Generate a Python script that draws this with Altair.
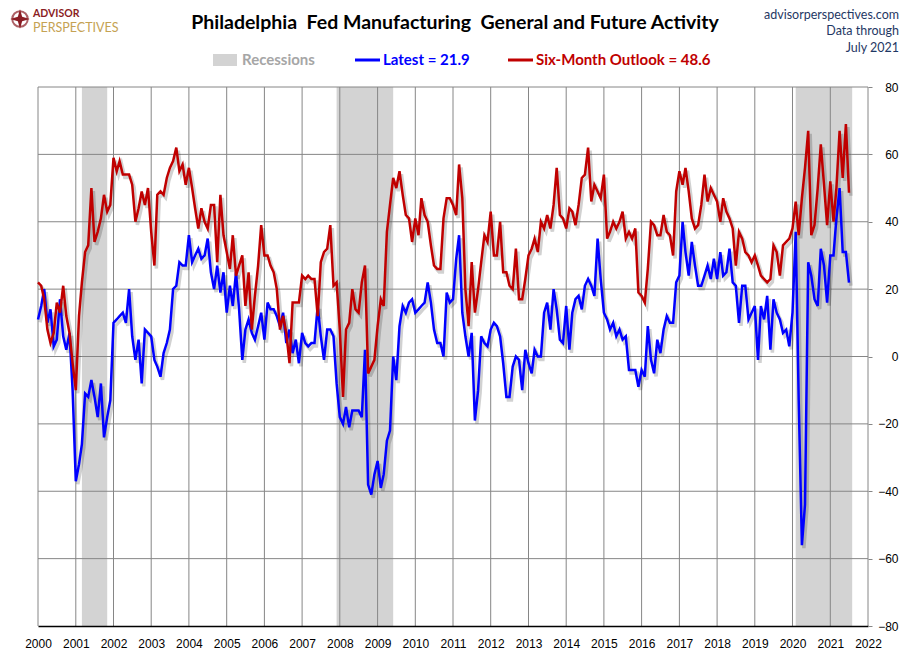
import pandas as pd
import altair as alt

# Philly Fed general activity ("Latest") and six-month outlook, monthly Jan 2000 .. Jul 2021
latest = [
    11, 15, 20, 10, 14, 3, 5, 17, 6, 2, 7, -10,            # 2000
    -37, -32, -26, -11, -12, -7, -12, -18, -8, -24, -18, -13,  # 2001
    10, 11, 12, 13, 10, 20, 6, -1, 5, -8, 8, 7,             # 2002
    6, -1, -3, -6, 1, 4, 8, 20, 21, 28, 27, 27,             # 2003
    36, 28, 30, 32, 29, 30, 35, 25, 20, 27, 19, 25,         # 2004
    13, 21, 15, 25, 14, -1, 8, 11, 7, 5, 9, 13,             # 2005
    5, 16, 14, 14, 12, 9, 13, 4, 8, 1, 5, -2,               # 2006
    7, 4, 3, 4, 4, 15, 6, -1, 8, 8, 6, -8,                  # 2007
    -18, -20, -15, -21, -16, -16, -16, -18, 2, -38, -41, -35,  # 2008
    -31, -39, -35, -25, -22, 0, -7, 9, 15, 13, 16, 17,      # 2009
    13, 14, 15, 16, 22, 16, 8, 4, 4, 0, 19, 16,             # 2010
    17, 29, 36, 13, 6, 0, 7, -19, -10, 6, 4, 3,             # 2011
    8, 10, 9, 6, -2, -12, -12, -3, 0, -1, -10, 2,           # 2012
    -2, -5, 2, 0, 0, 13, 16, 8, 20, 14, 5, 4,               # 2013
    15, 2, 13, 17, 18, 14, 21, 23, 21, 18, 35, 23,          # 2014
    13, 11, 8, 10, 6, 8, 5, 6, -4, -4, -4, -9,              # 2015
    -4, -6, 9, -1, -5, 5, 1, 8, 12, 10, 10, 22,             # 2016
    24, 40, 31, 24, 34, 27, 21, 21, 24, 27, 23, 29,         # 2017
    23, 31, 24, 25, 32, 22, 21, 10, 21, 21, 11, 13,         # 2018
    15, -1, 15, 11, 18, 2, 17, 13, 11, 7, 8, 3,             # 2019
    13, 37, -13, -56, -44, 28, 24, 17, 15, 32, 27, 16,      # 2020
    30, 30, 41, 50, 31, 31, 21.9,                           # 2021
]
outlook = [
    22, 21, 17, 8, 4, 7, 16, 13, 21, 12, 7, -2,             # 2000
    -10, 12, 22, 31, 33, 50, 34, 37, 41, 48, 43, 45,        # 2001
    59, 55, 58, 54, 54, 54, 51, 40, 44, 49, 45, 50,         # 2002
    37, 27, 48, 49, 48, 53, 56, 58, 62, 55, 57, 51,         # 2003
    56, 50, 44, 38, 44, 40, 38, 45, 45, 28, 48, 36,         # 2004
    31, 26, 36, 24, 27, 30, 15, 25, 8, 18, 27, 39,          # 2005
    30, 30, 27, 25, 20, 8, 12, 7, -2, 16, 16, 16,           # 2006
    24, 23, 24, 23, 23, 12, 28, 31, 32, 39, 21, 22,         # 2007
    8, -12, 8, 10, 20, 14, 13, 22, 27, -5, -3, -1,          # 2008
    9, 17, 15, 37, 45, 53, 50, 55, 48, 42, 41, 34,          # 2009
    41, 36, 47, 42, 40, 33, 27, 26, 26, 41, 47, 47,         # 2010
    45, 42, 57, 47, 20, 9, 28, 13, 20, 28, 36, 34,          # 2011
    43, 30, 30, 40, 25, 25, 21, 20, 32, 17, 17, 23,         # 2012
    30, 32, 35, 31, 40, 38, 42, 38, 45, 56, 42, 41,         # 2013
    38, 44, 43, 39, 45, 53, 54, 62, 46, 51, 49, 47,         # 2014
    54, 35, 37, 40, 38, 40, 43, 35, 37, 35, 38, 19,         # 2015
    18, 16, 26, 40, 39, 36, 36, 42, 37, 36, 30, 49,         # 2016
    55, 51, 56, 49, 41, 38, 39, 45, 54, 46, 50, 48,         # 2017
    46, 40, 47, 43, 41, 38, 27, 37, 35, 31, 30, 28,         # 2018
    30, 27, 24, 23, 22, 23, 33, 31, 24, 33, 34, 35,         # 2019
    38, 46, 36, 47, 56, 67, 36, 39, 50, 63, 51, 39,         # 2020
    52, 40, 50, 67, 53, 69, 48.6,                           # 2021
]

# recession bands (the last one runs to the end of the data)
rec_start = ["2001-03-01", "2007-12-01", "2020-02-01"]
rec_end = ["2001-11-01", "2009-06-01", "2021-08-01"]

years = list(range(2000, 2023))
y_ticks = [-80, -60, -40, -20, 0, 20, 40, 60, 80]

_BLUE = "#0000ff"
_RED = "#c00000"
_GRID = "#868686"
_SHADE = "#d3d3d3"
_NAVY = "#1f3864"
_MAROON = "#8b1d24"
W, H = 830, 539

dates = pd.date_range("2000-01-01", periods=len(latest), freq="MS")
df = pd.DataFrame({"date": dates, "Latest": latest, "Six-Month Outlook": outlook})
long = df.melt("date", var_name="series", value_name="value")

x_scale = alt.Scale(domain=[alt.DateTime(year=2000, month=1, date=1),
                            alt.DateTime(year=2022, month=1, date=1)])
y_scale = alt.Scale(domain=[-80, 80], nice=False)

# the same axis objects go on every layer so Vega-Lite can merge them cleanly
x_axis = alt.Axis(
    values=[alt.DateTime(year=y, month=1, date=1) for y in years], format="%Y",
    labelFont="Liberation Sans", labelFontSize=12, labelColor="#000",
    tickSize=0, labelPadding=12, domainColor="#000", domainWidth=1.5,
    grid=False, zindex=1, labelFlush=False, labelOverlap=False, title=None)
y_axis = alt.Axis(
    orient="right", values=y_ticks, labelFont="Liberation Sans", labelFontSize=12,
    labelColor="#000", tickColor=_GRID, tickSize=4, labelAlign="right",
    labelPadding=26, domain=False, grid=False, zindex=1, title=None)

rec_df = pd.DataFrame({"start": pd.to_datetime(rec_start), "end": pd.to_datetime(rec_end)})
shade = alt.Chart(rec_df).mark_rect(color=_SHADE).encode(
    x=alt.X("start:T", scale=x_scale, axis=x_axis), x2="end:T",
    y=alt.datum(80, scale=y_scale, axis=y_axis), y2=alt.datum(-80))

year_df = pd.DataFrame({"year": pd.to_datetime([f"{y}-01-01" for y in years])})
vgrid = alt.Chart(year_df).mark_rule(color=_GRID, strokeWidth=1).encode(
    x=alt.X("year:T", scale=x_scale, axis=x_axis))
hgrid = alt.Chart(pd.DataFrame({"v": y_ticks[1:]})).mark_rule(
    color=_GRID, strokeWidth=1).encode(y=alt.Y("v:Q", scale=y_scale, axis=y_axis))

# soft drop shadow under both series, like the spreadsheet original
shadow = alt.Chart(long).mark_line(
    color="#000", opacity=0.18, strokeWidth=3.5, xOffset=2, yOffset=3
).encode(x=alt.X("date:T", scale=x_scale, axis=x_axis),
         y=alt.Y("value:Q", scale=y_scale, axis=y_axis),
         detail="series:N")
lines = alt.Chart(long).mark_line(strokeWidth=2.5).encode(
    x=alt.X("date:T", scale=x_scale, axis=x_axis),
    y=alt.Y("value:Q", scale=y_scale, axis=y_axis),
    color=alt.Color("series:N", legend=None,
                    scale=alt.Scale(domain=["Latest", "Six-Month Outlook"],
                                    range=[_BLUE, _RED])))

_one = pd.DataFrame({"k": [0]})


def label(text, x, y, **kw):
    """A bit of page furniture placed in plot pixels (origin = top-left of the plot)."""
    return alt.Chart(_one).mark_text(text=text, baseline="middle", **kw).encode(
        x=alt.value(x), y=alt.value(y))


def swatch(x1, x2, y, color, width):
    return alt.Chart(_one).mark_rule(color=color, strokeWidth=width).encode(
        x=alt.value(x1), x2=alt.value(x2), y=alt.value(y))


title = label("Philadelphia\u00a0 Fed Manufacturing\u00a0 General and Future Activity",
              417, -64, align="center", font="Lato", fontSize=19.5, fontWeight="bold",
              color="#000")
site = [label(t, 861, yy, align="right", font="Lato", fontSize=12.5, color=_NAVY)
        for t, yy in [("advisorperspectives.com", -72), ("Data through", -56),
                      ("July 2021", -39)]]
legend = [
    swatch(175, 199, -27, _SHADE, 12),
    label("Recessions", 204, -27, align="left", font="Lato", fontSize=15,
          fontWeight="bold", color="#a6a6a6"),
    swatch(317, 342, -27, _BLUE, 3),
    label("Latest = 21.9", 345, -27, align="left", font="Lato", fontSize=15,
          fontWeight="bold", color=_BLUE),
    swatch(470, 495, -27, _RED, 3),
    label("Six-Month Outlook = 48.6", 498, -27, align="left", font="Lato", fontSize=15,
          fontWeight="bold", color=_RED),
]
star = "M0,-1L0.22,-0.22L1,0L0.22,0.22L0,1L-0.22,0.22L-1,0L-0.22,-0.22Z"
logo = [
    alt.Chart(_one).mark_point(shape="circle", size=240, filled=False,
                               color=_MAROON, strokeWidth=2).encode(
        x=alt.value(-18), y=alt.value(-68)),
    alt.Chart(_one).mark_point(shape=star, size=380, filled=True,
                               color=_MAROON, opacity=1).encode(
        x=alt.value(-18), y=alt.value(-68)),
    label("ADVISOR", -5, -73.5, align="left", font="Lato", fontSize=10.5,
          fontWeight="bold", color=_MAROON),
    label("PERSPECTIVES", -5, -59.5, align="left", font="Lato", fontSize=12.5,
          color="#c5a253"),
]

chart = alt.layer(
    shade, vgrid, hgrid, shadow, lines, title, *site, *legend, *logo
).properties(
    width=W, height=H,
    autosize=alt.AutoSizeParams(type="none"),
    padding={"left": 30, "top": 79, "right": 34, "bottom": 26},
).configure_view(stroke=None)

chart.save("out.html", embed_options={"renderer": "svg", "actions": False})
